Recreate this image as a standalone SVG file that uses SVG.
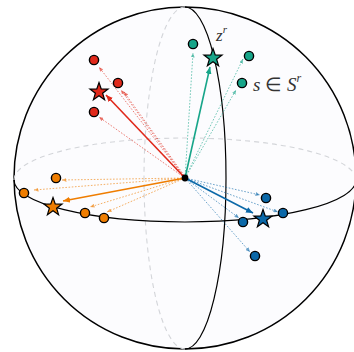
<svg xmlns="http://www.w3.org/2000/svg" width="354" height="352" viewBox="0 0 354 352">
<style>
.sph{fill:#fcfcfe;stroke:#000;stroke-width:1.5}
.mer{fill:none;stroke:#000;stroke-width:1.2}
.back{fill:none;stroke:#d3d5d9;stroke-width:1.1;stroke-dasharray:5,4}
.dot{stroke:#000;stroke-width:1.4}
.star{stroke:#000;stroke-width:1.2;stroke-linejoin:miter}
.sol{stroke-width:1.6;fill:none}
.dsh{stroke-width:1;stroke-dasharray:1.6,1.6;stroke-opacity:0.6;fill:none}
.r{stroke:#e0291b}
.t{stroke:#17a589}
.o{stroke:#ef7d00}
.b{stroke:#0b68a8}
.fr{fill:#e0291b}
.ft{fill:#17a589}
.fo{fill:#ef7d00}
.fb{fill:#0b68a8}
.lbl{font-family:"Liberation Serif",serif;font-style:italic;fill:#333}
</style>
<defs>
<path id="star" d="M0,-9.5 L2.23,-3.08 L9.03,-2.94 L3.61,1.18 L5.59,7.69 L0,3.8 L-5.59,7.69 L-3.61,1.18 L-9.03,-2.94 L-2.23,-3.08 Z"/>
<marker id="mr" markerUnits="userSpaceOnUse" markerWidth="8" markerHeight="6" refX="7" refY="3" orient="auto"><path d="M0,0 L7,3 L0,6 Z" fill="#e0291b"/></marker>
<marker id="mt" markerUnits="userSpaceOnUse" markerWidth="8" markerHeight="6" refX="7" refY="3" orient="auto"><path d="M0,0 L7,3 L0,6 Z" fill="#17a589"/></marker>
<marker id="mo" markerUnits="userSpaceOnUse" markerWidth="8" markerHeight="6" refX="7" refY="3" orient="auto"><path d="M0,0 L7,3 L0,6 Z" fill="#ef7d00"/></marker>
<marker id="mb" markerUnits="userSpaceOnUse" markerWidth="8" markerHeight="6" refX="7" refY="3" orient="auto"><path d="M0,0 L7,3 L0,6 Z" fill="#0b68a8"/></marker>
<marker id="dr" markerUnits="userSpaceOnUse" markerWidth="5" markerHeight="4" refX="4.5" refY="2" orient="auto"><path d="M0,0 L4.5,2 L0,4 Z" fill="#e0291b" fill-opacity="0.6"/></marker>
<marker id="dt" markerUnits="userSpaceOnUse" markerWidth="5" markerHeight="4" refX="4.5" refY="2" orient="auto"><path d="M0,0 L4.5,2 L0,4 Z" fill="#17a589" fill-opacity="0.6"/></marker>
<marker id="do" markerUnits="userSpaceOnUse" markerWidth="5" markerHeight="4" refX="4.5" refY="2" orient="auto"><path d="M0,0 L4.5,2 L0,4 Z" fill="#ef7d00" fill-opacity="0.6"/></marker>
<marker id="db" markerUnits="userSpaceOnUse" markerWidth="5" markerHeight="4" refX="4.5" refY="2" orient="auto"><path d="M0,0 L4.5,2 L0,4 Z" fill="#0b68a8" fill-opacity="0.6"/></marker>
</defs>
<rect width="354" height="352" fill="#fff"/>
<g id="sphere">
<circle class="sph" cx="185" cy="178" r="171"/>
<path class="back" d="M14,180 A171,42 0 0 1 356,180"/>
<path class="back" d="M185,7 A41,171 0 0 0 185,349"/>
<path class="mer" d="M14,180 A171,42 0 0 0 356,180"/>
<path class="mer" d="M185,7 A41,171 0 0 1 185,349"/>
</g>
<g id="connectors">
<line class="dsh r" x1="185" y1="178" x2="99" y2="67" marker-end="url(#dr)"/>
<line class="dsh r" x1="185" y1="178" x2="121" y2="90" marker-end="url(#dr)"/>
<line class="dsh r" x1="186" y1="178" x2="124" y2="92" marker-end="url(#dr)"/>
<line class="dsh r" x1="185" y1="178" x2="99" y2="117" marker-end="url(#dr)"/>
<line class="dsh t" x1="185" y1="178" x2="193" y2="53" marker-end="url(#dt)"/>
<line class="dsh t" x1="185" y1="178" x2="243" y2="59" marker-end="url(#dt)"/>
<line class="dsh t" x1="185" y1="178" x2="236" y2="90" marker-end="url(#dt)"/>
<line class="dsh o" x1="185" y1="178" x2="62" y2="180" marker-end="url(#do)"/>
<line class="dsh o" x1="185" y1="178" x2="34" y2="190" marker-end="url(#do)"/>
<line class="dsh o" x1="185" y1="178" x2="90" y2="207" marker-end="url(#do)"/>
<line class="dsh o" x1="185" y1="178" x2="107" y2="212" marker-end="url(#do)"/>
<line class="dsh b" x1="185" y1="178" x2="260" y2="195" marker-end="url(#db)"/>
<line class="dsh b" x1="185" y1="178" x2="278" y2="212" marker-end="url(#db)"/>
<line class="dsh b" x1="185" y1="178" x2="239" y2="218" marker-end="url(#db)"/>
<line class="dsh b" x1="185" y1="178" x2="250" y2="252" marker-end="url(#db)"/>
<line class="sol r" x1="185" y1="178" x2="106" y2="95" marker-end="url(#mr)"/>
<line class="sol t" x1="185" y1="178" x2="210" y2="67" marker-end="url(#mt)"/>
<line class="sol o" x1="185" y1="178" x2="63" y2="201" marker-end="url(#mo)"/>
<line class="sol b" x1="185" y1="178" x2="253" y2="213" marker-end="url(#mb)"/>
</g>
<g id="red">
<circle class="dot fr" cx="94" cy="60" r="4.6"/>
<circle class="dot fr" cx="118" cy="83" r="4.6"/>
<circle class="dot fr" cx="94" cy="112" r="4.6"/>
<use href="#star" class="star fr" x="99" y="92"/>
</g>
<g id="teal">
<circle class="dot ft" cx="193" cy="44" r="4.6"/>
<circle class="dot ft" cx="249" cy="56" r="4.6"/>
<circle class="dot ft" cx="242" cy="83" r="4.6"/>
<use href="#star" class="star ft" x="213" y="58"/>
</g>
<g id="orange">
<circle class="dot fo" cx="56" cy="178" r="4.6"/>
<circle class="dot fo" cx="24" cy="193" r="4.6"/>
<circle class="dot fo" cx="85" cy="213" r="4.6"/>
<circle class="dot fo" cx="104" cy="218" r="4.6"/>
<use href="#star" class="star fo" x="53" y="207"/>
</g>
<g id="blue">
<circle class="dot fb" cx="266" cy="198" r="4.6"/>
<circle class="dot fb" cx="283" cy="213" r="4.6"/>
<circle class="dot fb" cx="243" cy="222" r="4.6"/>
<circle class="dot fb" cx="255" cy="256" r="4.6"/>
<use href="#star" class="star fb" x="263" y="219"/>
</g>
<g id="origin"><circle cx="185" cy="178" r="3.4" fill="#000"/></g>
<g id="labels">
<text class="lbl" x="216" y="41" font-size="17">z<tspan font-size="11" dy="-8">r</tspan></text>
<text class="lbl" x="253" y="91" font-size="19">s <tspan font-style="normal">∈</tspan> S<tspan font-size="12" dy="-9">r</tspan></text>
</g>
</svg>
